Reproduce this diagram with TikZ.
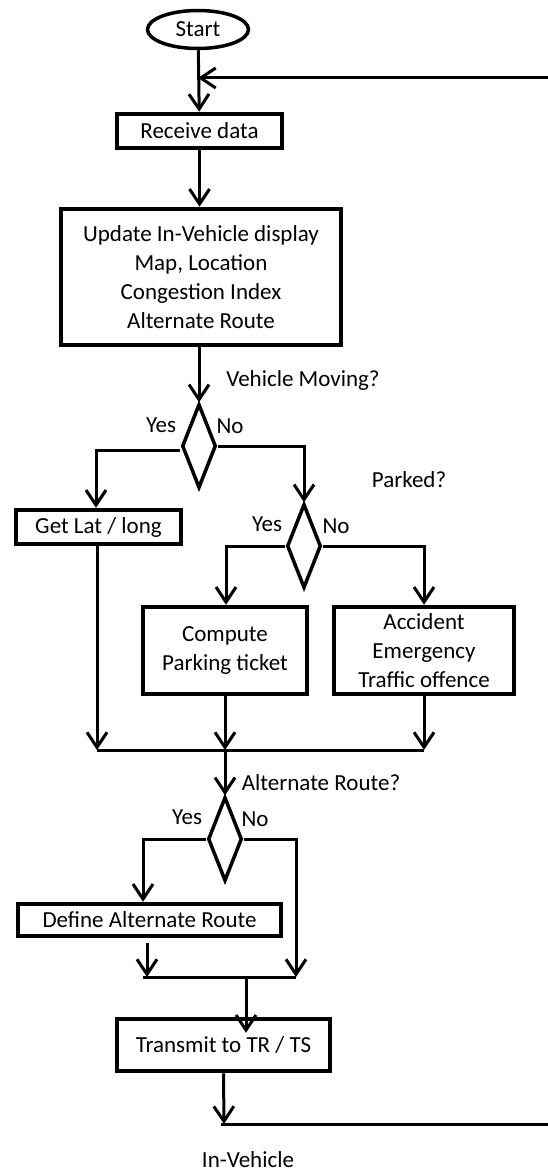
\documentclass[tikz,border=0pt]{standalone}
\usepackage{fontspec}
\setmainfont{Carlito}
\usetikzlibrary{shapes.geometric, arrows.meta}

\begin{document}
\begin{tikzpicture}[x=1pt, y=-1pt,
    every node/.style={font=\fontsize{23pt}{29pt}\selectfont, inner sep=0pt},
    startnode/.style={ellipse, draw, line width=3.5pt, minimum width=101pt, minimum height=38pt},
    procbox/.style={rectangle, draw, line width=4.5pt, align=center},
    decision/.style={diamond, draw, line width=3.5pt, minimum width=34pt, minimum height=84pt},
    flow/.style={line width=3pt, -{Straight Barb[length=15pt, width=20pt, line width=3pt]}},
    plain/.style={line width=3pt}]
        \useasboundingbox (0,0) rectangle (548,1174);
        \node[startnode] (start) at (198,29.5) {Start};
        \node[procbox, minimum width=165pt, minimum height=34pt] (recv) at (199.5,131) {Receive data};
        \node[procbox, minimum width=280pt, minimum height=136pt] (upd) at (201,277)
            {Update In-Vehicle display\\Map, Location\\Congestion Index\\Alternate Route};
        \node[decision] (moving) at (199,446) {};
        \node[procbox, minimum width=165pt, minimum height=34pt] (latlong) at (98.5,527) {Get Lat / long};
        \node[decision] (parked) at (304,546) {};
        \node[procbox, minimum width=164pt, minimum height=87pt] (ticket) at (225,650.5) {Compute\\Parking ticket};
        \node[procbox, minimum width=180pt, minimum height=87pt] (accident) at (424,650.5)
            {Accident\\Emergency\\Traffic offence};
        \node[decision] (altq) at (225,839) {};
        \node[procbox, minimum width=263pt, minimum height=32pt] (altroute) at (149.5,920) {Define Alternate Route};
        \node[procbox, minimum width=213pt, minimum height=52pt] (transmit) at (223.5,1045) {Transmit to TR / TS};

        % question and branch labels
        \node (movingq) at (303,380) {Vehicle Moving?};
        \node (parkedq) at (409,480) {Parked?};
        \node (altrouteq) at (321,783) {Alternate Route?};
        \node (yes1) at (161,425) {Yes};
        \node (no1) at (230,426) {No};
        \node (yes2) at (267,524) {Yes};
        \node (no2) at (336,526) {No};
        \node (yes3) at (187,817) {Yes};
        \node (no3) at (255,819) {No};
        \node (invehicle) at (248,1160) {In-Vehicle};

        % junction points
        \coordinate (loopin) at (548,78);
        \coordinate (loopout) at (548,1124);
        \coordinate (mergeL) at (97,750);
        \coordinate (mergeA) at (225,750);
        \coordinate (mergeB) at (246,977);
        \coordinate (noend) at (296,977);
        \coordinate (outend) at (224,1124);

        \draw[flow] (start) -- (recv);
        \draw[flow] (loopin) -- (start.south |- loopin);
        \draw[flow] (recv) -- (upd.north -| recv);
        \draw[flow] (upd.south -| moving) -- (moving.north);
        \draw[flow] ([yshift=-4pt]moving.west) -| ([xshift=-2.5pt]latlong.north);
        \draw[flow] (moving.east) -| (parked.north);
        \draw[flow] (parked.west) -| ([xshift=1pt]ticket.north);
        \draw[flow] (parked.east) -| (accident.north);
        \draw[flow] (latlong.south -| mergeL) -- (mergeL);
        \draw[flow] (ticket.south) -- (mergeA);
        \draw[flow] (accident.south) -- (accident.south |- mergeA);
        \draw[plain] (mergeL) -- (accident.south |- mergeA);
        \draw[flow] (mergeA) -- (altq.north);
        \draw[flow] (altq.west) -| ([xshift=-6.5pt]altroute.north);
        \draw[flow] (altq.east) -| (noend);
        \draw[flow] ([xshift=-2.5pt,yshift=-5pt]altroute.south) -- ([xshift=-2.5pt]altroute.south |- noend);
        \draw[plain] (143,977) -- (noend);
        \draw[flow] (mergeB) -- ([xshift=22.5pt,yshift=-16pt]transmit.north);
        \draw[flow] (transmit.south) -- (outend);
        \draw[plain] (221,1124) -- (loopout);
\end{tikzpicture}
\end{document}
